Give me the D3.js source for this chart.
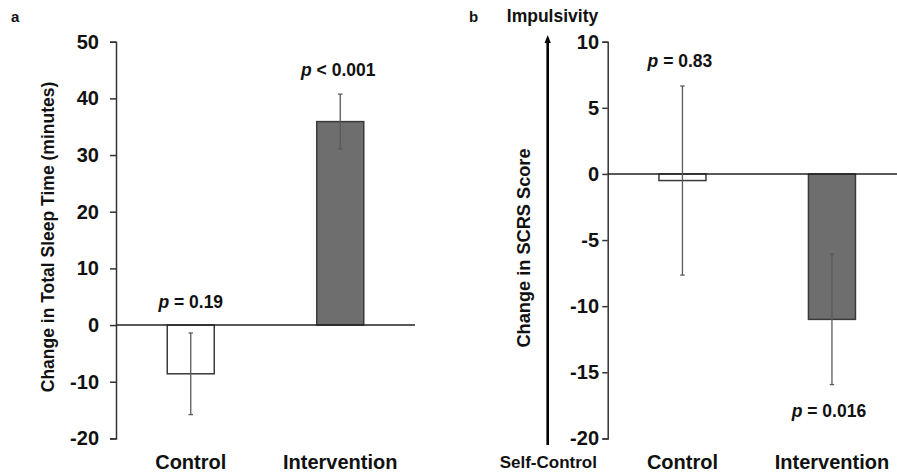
<!DOCTYPE html>
<html>
<head>
<meta charset="utf-8">
<script src="https://cdn.jsdelivr.net/npm/d3@7"></script>
<style>
  html, body { margin: 0; padding: 0; background: #fff; }
  svg { display: block; font-family: "Liberation Sans", Arial, sans-serif; font-weight: bold; }
</style>
</head>
<body>
<svg id="chart" width="897" height="475"></svg>
<script>
// ---- data ----
const categories = ["Control", "Intervention"];
const sleepMeans = [-8.6, 35.9];
const sleepSE = [7.2, 4.85];
const sleepP = ["= 0.19", "< 0.001"];
const sleepTicks = [50, 40, 30, 20, 10, 0, -10, -20];

const scrsMeans = [-0.5, -11.0];
const scrsSE = [7.15, 4.93];
const scrsP = ["= 0.83", "= 0.016"];
const scrsTicks = [10, 5, 0, -5, -10, -15, -20];

const barFills = ["#ffffff", "#6e6e6e"];

// ---- drawing ----
const svg = d3.select("#chart");
const yTop = 41.7, yBot = 438.4;
const barW = 47;
const pIn = 1 - barW / 149.5;

function panel(opt) {
  const g = svg.append("g");
  const y = d3.scaleLinear().domain(opt.domain).range([yBot, yTop]);
  const x = d3.scaleBand().domain(categories)
    .range([opt.x0, opt.x0 + 299]).paddingInner(pIn).paddingOuter(pIn / 2);

  // axis
  const ax = g.append("g").attr("transform", `translate(${opt.x0},0)`)
    .call(d3.axisLeft(y).tickValues(opt.ticks).tickSize(opt.tickSize).tickPadding(opt.tickPad).tickFormat(d => String(d)));
  ax.select(".domain").attr("stroke", "#333").attr("stroke-width", 1.5);
  ax.selectAll(".tick line").attr("stroke", "#333").attr("stroke-width", 1.5);
  ax.selectAll(".tick text").attr("fill", "#111").style("font-size", "20px")
    .style("font-family", '"Liberation Sans", Arial, sans-serif').style("font-weight", "bold");

  // bars
  g.selectAll("rect.bar").data(categories).enter().append("rect")
    .attr("class", "bar")
    .attr("x", d => x(d))
    .attr("width", x.bandwidth())
    .attr("y", (d, i) => Math.min(y(0), y(opt.means[i])))
    .attr("height", (d, i) => Math.abs(y(opt.means[i]) - y(0)))
    .attr("fill", (d, i) => barFills[i])
    .attr("stroke", "#3a3a3a").attr("stroke-width", 1.5);

  // zero line
  g.append("line").attr("x1", opt.x0).attr("x2", opt.zeroEnd)
    .attr("y1", y(0)).attr("y2", y(0)).attr("stroke", "#222").attr("stroke-width", 1.5);

  // error bars
  const eg = g.selectAll("g.err").data(categories).enter().append("g").attr("class", "err");
  const cx = d => x(d) + x.bandwidth() / 2;
  eg.append("line").attr("x1", cx).attr("x2", cx)
    .attr("y1", (d, i) => y(opt.means[i] + opt.se[i]))
    .attr("y2", (d, i) => y(opt.means[i] - opt.se[i]))
    .attr("stroke", "#5a5a5a").attr("stroke-width", 1.3);
  [1, -1].forEach(s => {
    eg.append("line").attr("x1", d => cx(d) - 2.2).attr("x2", d => cx(d) + 2.2)
      .attr("y1", (d, i) => y(opt.means[i] + s * opt.se[i]))
      .attr("y2", (d, i) => y(opt.means[i] + s * opt.se[i]))
      .attr("stroke", "#5a5a5a").attr("stroke-width", 1.3);
  });

  // p labels
  categories.forEach((c, i) => {
    const t = g.append("text").attr("x", cx(c) + opt.pdx[i]).attr("y", opt.pY(y, i))
      .attr("text-anchor", "middle").attr("fill", "#111").style("font-size", "17.5px");
    t.append("tspan").style("font-style", "italic").text("p");
    t.append("tspan").text(" " + opt.pText[i]);
  });

  // category labels
  g.selectAll("text.cat").data(categories).enter().append("text")
    .attr("class", "cat").attr("x", cx).attr("y", 469)
    .attr("text-anchor", "middle").attr("fill", "#111").style("font-size", "20px")
    .text(d => d);

  // y title
  g.append("text").attr("transform", `translate(${opt.titleX},${opt.titleY}) rotate(-90)`)
    .attr("text-anchor", "middle").attr("fill", "#111").style("font-size", opt.titleSize)
    .text(opt.title);
  return { x, y };
}

panel({
  x0: 116, zeroEnd: 415, domain: [-20, 50], ticks: sleepTicks, tickSize: 6, tickPad: 11,
  means: sleepMeans, se: sleepSE, pText: sleepP, pdx: [0, -2],
  pY: (y, i) => i === 0 ? y(0) - 17 : y(sleepMeans[i] + sleepSE[i]) - 18.5,
  title: "Change in Total Sleep Time (minutes)", titleX: 54, titleY: 237, titleSize: "17.5px"
});

panel({
  x0: 607.7, zeroEnd: 897, domain: [-20, 10], ticks: scrsTicks, tickSize: 5.4, tickPad: 3.3,
  means: scrsMeans, se: scrsSE, pText: scrsP, pdx: [-2.5, -3],
  pY: (y, i) => i === 0 ? y(scrsMeans[i] + scrsSE[i]) - 19.3 : y(scrsMeans[i] - scrsSE[i]) + 32.4,
  title: "Change in SCRS Score", titleX: 530, titleY: 248, titleSize: "18.2px"
});

// panel letters
svg.append("text").attr("x", 11).attr("y", 21.7).attr("fill", "#111").style("font-size", "15px").text("a");
svg.append("text").attr("x", 469).attr("y", 21.7).attr("fill", "#111").style("font-size", "15px").text("b");

// direction arrow for panel b
svg.append("line").attr("x1", 547.7).attr("x2", 547.7).attr("y1", 445).attr("y2", 41)
  .attr("stroke", "#000").attr("stroke-width", 2.6);
svg.append("path").attr("d", "M547.7,35 L544.6,43 L550.8,43 Z").attr("fill", "#000");
svg.append("text").attr("x", 552.5).attr("y", 21.7).attr("text-anchor", "middle")
  .attr("fill", "#111").style("font-size", "17.5px").text("Impulsivity");
svg.append("text").attr("x", 548.3).attr("y", 468.3).attr("text-anchor", "middle")
  .attr("fill", "#111").style("font-size", "17px").text("Self-Control");
</script>
</body>
</html>
